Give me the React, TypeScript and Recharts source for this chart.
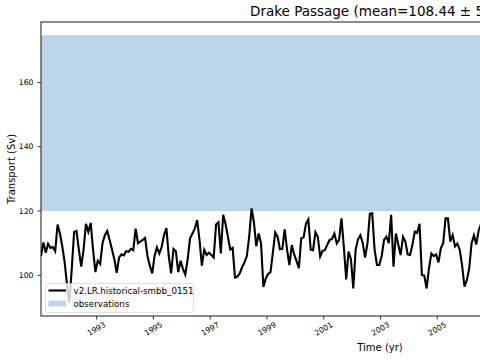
import { LineChart, Line, XAxis, YAxis, ReferenceArea } from 'recharts'

// monthly Drake Passage transport (Sv), Jan 1991 onwards (visible part only)
const transport = [
  106, 110.2, 107, 109.8, 108.5, 108.8, 107.5, 115.8, 113, 109,
  104, 97, 91.5, 102, 113.5, 113.8, 108, 102.7, 108, 116,
  113.5, 116.3, 108, 101, 104.5, 103.5, 110, 112.5, 113.8, 111,
  108, 105, 100.8, 105.5, 106.5, 106.2, 107.5, 107.3, 108.2, 107.8,
  114.5, 110, 110.5, 111, 111.6, 106, 103, 100.6, 106, 108.7,
  106.8, 108.8, 112.5, 114.7, 106, 100.6, 108.2, 107.5, 101, 104.5,
  102, 100.2, 105, 111.5, 113, 114.5, 117.2, 111, 103, 107.9,
  106.3, 107, 106.3, 105.5, 115.8, 116.5, 106.8, 118.8, 116, 112,
  108, 108.5, 99.3, 99.6, 100.6, 102.5, 104, 106, 112, 120.8,
  116.5, 109, 113, 110, 96.4, 99, 100.4, 101, 107, 113.3,
  112, 108.1, 108.2, 114.3, 108, 103.2, 109.4, 106.5, 104.5, 102.2,
  111.5, 111.8, 116, 117.4, 108, 107.8, 113.4, 112, 105.8, 107.6,
  107.8, 109.5, 111, 111.3, 113, 109.9, 111, 117.7, 108.9, 98.7,
  107.4, 105, 95.9, 108, 111.2, 112.5, 110, 105.5, 110, 119.1,
  119.3, 108, 103.2, 103.2, 106, 111, 112, 110, 118.8, 102.7,
  113, 109.6, 106.3, 112, 110.5, 106.5, 106.3, 109.5, 113.6, 113.2,
  116, 100.1, 99.9, 95.9, 102.2, 106.8, 106, 106.5, 104, 108.4,
  110, 117.7, 117.7, 110.5, 112.5, 109, 109.9, 107.9, 103, 96.5,
  98.5, 102.2, 110, 112.4, 109.6, 114, 116,
]

const startYear = 1991
const obsRange = [120, 174.7]
const yTicks = [100, 120, 140, 160]
const xTicks = [1993, 1995, 1997, 1999, 2001, 2003, 2005]
const seriesName = 'v2.LR.historical-smbb_0151'

const data = transport.map((v, i) => ({ t: startYear + (i + 0.5) / 12, v }))

const FONT = '"DejaVu Sans", sans-serif'

const XTick = (props: any) => {
  const { x, payload } = props
  const cy = 329
  return (
    <text
      x={x}
      y={cy}
      textAnchor="middle"
      dominantBaseline="central"
      fontSize={7.7}
      fontFamily={FONT}
      fill="#000"
      transform={`rotate(-30, ${x}, ${cy})`}
    >
      {payload.value}
    </text>
  )
}

export default function App() {
  return (
    <div
      style={{
        position: 'absolute',
        left: 0,
        top: 0,
        width: 480,
        height: 360,
        overflow: 'hidden',
        background: '#fff',
      }}
    >
      <LineChart
        width={760}
        height={360}
        data={data}
        margin={{ top: 22, right: 40, bottom: 0, left: 0 }}
      >
        <ReferenceArea
          y1={obsRange[0]}
          y2={obsRange[1]}
          fill="#1f77b4"
          fillOpacity={0.3}
          stroke="none"
        />
        <XAxis
          dataKey="t"
          type="number"
          domain={[1991.0417, 2014.9583]}
          ticks={xTicks}
          allowDataOverflow
          height={44}
          axisLine={false}
          tickSize={3.5}
          tickLine={{ stroke: '#000', strokeWidth: 0.8 }}
          tick={<XTick />}
          interval={0}
        />
        <YAxis
          type="number"
          domain={[87.34, 178.79]}
          ticks={yTicks}
          allowDataOverflow
          width={41}
          axisLine={false}
          tickSize={3.5}
          tickMargin={4}
          tickLine={{ stroke: '#000', strokeWidth: 0.8 }}
          tick={{ fontSize: 7.7, fill: '#000', fontFamily: FONT }}
          interval={0}
        />
        <Line
          type="linear"
          dataKey="v"
          stroke="#000"
          strokeWidth={2.1}
          dot={false}
          isAnimationActive={false}
        />
      </LineChart>
      <svg
        width={480}
        height={360}
        style={{ position: 'absolute', left: 0, top: 0, pointerEvents: 'none' }}
        fontFamily={FONT}
      >
        <rect x={41} y={22} width={679} height={294} fill="none" stroke="#000" strokeWidth={0.9} />
        <text x={250} y={16} fontSize={13.5} fill="#000">
          Drake Passage (mean=108.44 ± 5.38 Sv)
        </text>
        <text x={380} y={350.5} fontSize={10} textAnchor="middle" fill="#000">
          Time (yr)
        </text>
        <text
          x={11}
          y={169}
          fontSize={10}
          textAnchor="middle"
          dominantBaseline="central"
          fill="#000"
          transform="rotate(-90, 11, 169)"
        >
          Transport (Sv)
        </text>
        <g>
          <rect
            x={45.5}
            y={283.5}
            width={148}
            height={29}
            rx={2.5}
            fill="#fff"
            fillOpacity={0.8}
            stroke="#ccc"
            strokeOpacity={0.8}
            strokeWidth={0.8}
          />
          <line x1={48.5} x2={66} y1={290.5} y2={290.5} stroke="#000" strokeWidth={2.1} />
          <text x={73.5} y={290.5} fontSize={8.7} dominantBaseline="central" fill="#000">
            {seriesName}
          </text>
          <rect x={48.5} y={300.5} width={17.5} height={6} fill="#1f77b4" fillOpacity={0.3} />
          <text x={73.5} y={303.7} fontSize={8.7} dominantBaseline="central" fill="#000">
            observations
          </text>
        </g>
      </svg>
    </div>
  )
}
